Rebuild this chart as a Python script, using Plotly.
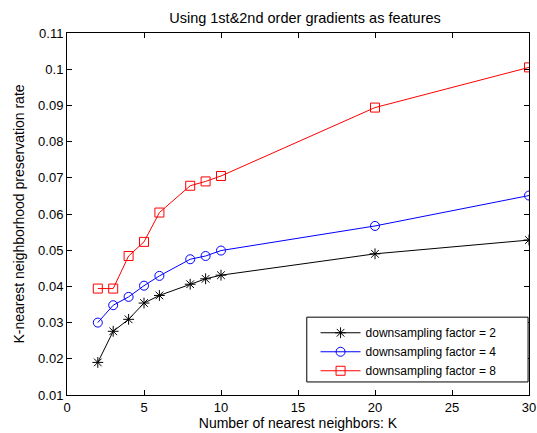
import plotly.graph_objects as go

K = [2, 3, 4, 5, 6, 8, 9, 10, 20, 30]
f2 = [0.0190, 0.0276, 0.0309, 0.0354, 0.0375, 0.0406, 0.0421, 0.0431, 0.0490, 0.0528]
f4 = [0.0300, 0.0348, 0.0371, 0.0402, 0.0429, 0.0475, 0.0484, 0.0499, 0.0567, 0.0651]
f8 = [0.0394, 0.0394, 0.0484, 0.0523, 0.0604, 0.0678, 0.0690, 0.0705, 0.0894, 0.1005]
names = ["downsampling factor = 2", "downsampling factor = 4", "downsampling factor = 8"]
x_ticks = [0, 5, 10, 15, 20, 25, 30]
y_ticks = [0.01, 0.02, 0.03, 0.04, 0.05, 0.06, 0.07, 0.08, 0.09, 0.10, 0.11]
y_tick_text = ["0.01", "0.02", "0.03", "0.04", "0.05", "0.06", "0.07", "0.08", "0.09", "0.1", "0.11"]

fig = go.Figure()
styles = [("black", "asterisk-open"), ("blue", "circle-open"), ("red", "square-open")]
for ys, nm, (c, sym) in zip([f2, f4, f8], names, styles):
    fig.add_trace(go.Scatter(
        x=K, y=ys, name=nm, mode="lines+markers",
        line=dict(color=c, width=1),
        marker=dict(symbol=sym, size=9, color=c, line=dict(color=c, width=1)),
    ))

font = "Liberation Sans, Arial, sans-serif"
fs = 13
axis_common = dict(
    showgrid=False, zeroline=False, showline=True, linecolor="black", linewidth=1,
    mirror="ticks", ticks="inside", ticklen=5, tickcolor="black",
    tickfont=dict(family=font, size=fs, color="black"), automargin=False,
)
# legend frame (plot-area fractions)
fig.add_shape(type="rect", xref="x domain", yref="y domain",
              x0=0.519, x1=0.998, y0=0.036, y1=0.215,
              line=dict(color="black", width=1), fillcolor="white", layer="above")
fig.update_layout(
    width=537, height=433,
    margin=dict(l=67, r=8, t=33, b=38),
    paper_bgcolor="white", plot_bgcolor="white",
    font=dict(family=font, size=fs, color="black"),
    title=dict(text="Using 1st&2nd order gradients as features", x=0.568, xanchor="center",
               y=0.958, yanchor="middle", font=dict(family=font, size=14.5, color="black")),
    xaxis=dict(range=[0, 30], tickvals=x_ticks,
               title=dict(text="Number of nearest neighbors: K", standoff=4,
                          font=dict(family=font, size=14, color="black")),
               **axis_common),
    yaxis=dict(range=[0.01, 0.11], tickvals=y_ticks, ticktext=y_tick_text,
               title=dict(text="K-nearest neighborhood preservation rate", standoff=10,
                          font=dict(family=font, size=14, color="black")),
               **axis_common),
    legend=dict(x=0.538, xanchor="left", y=0.212, yanchor="top",
                borderwidth=0, bgcolor="rgba(0,0,0,0)",
                font=dict(family=font, size=12, color="black"),
                tracegroupgap=0, itemwidth=40),
    showlegend=True,
)
fig.write_html("out.html")
